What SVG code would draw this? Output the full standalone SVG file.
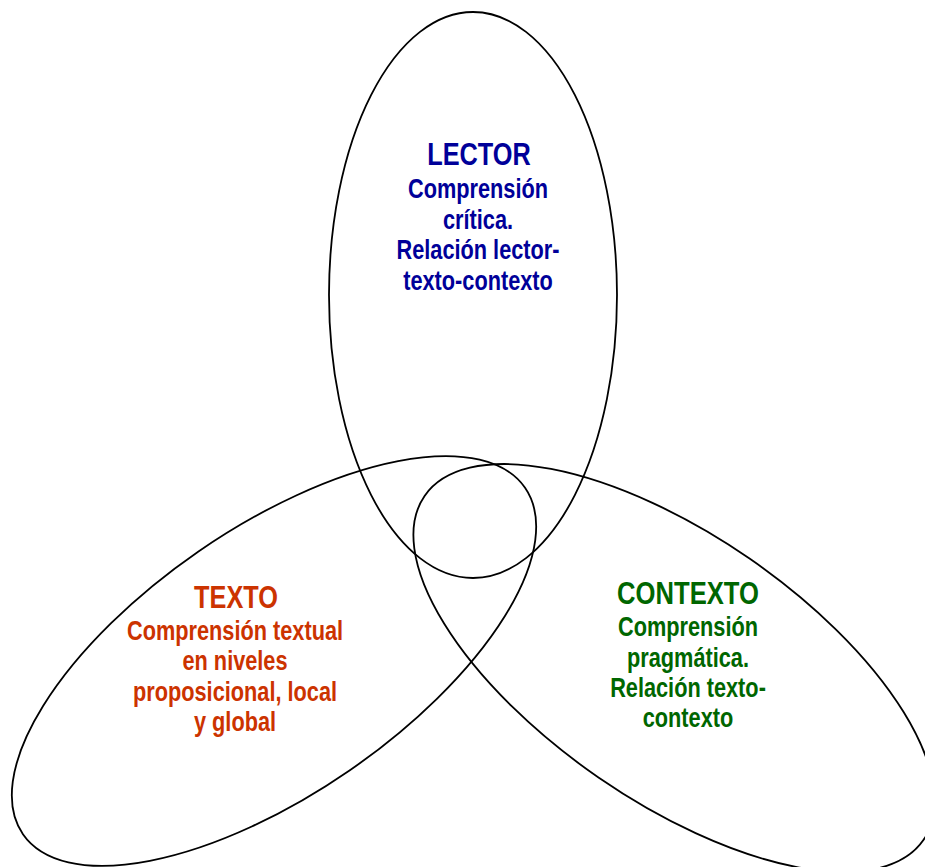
<svg xmlns="http://www.w3.org/2000/svg" width="925" height="867" viewBox="0 0 925 867">
<style>
.ring{fill:none;stroke:#000;stroke-width:1.8}
.t{font-family:"Liberation Sans",Arial,sans-serif;font-weight:bold;text-anchor:middle}
.h{font-size:30.5px}
.b{font-size:27px}
.lector{fill:#000099}
.texto{fill:#CC3300}
.contexto{fill:#006600}
</style>
<rect width="925" height="867" fill="#fff"/>
<g id="connectors"></g>
<g id="node-lector">
<ellipse class="ring" cx="473" cy="295" rx="144" ry="283"/>
<g class="t lector">
<text class="h" transform="translate(479,165) scale(0.83,1)">LECTOR</text>
<g transform="translate(478,0) scale(0.805,1)">
<text class="b" x="0" y="198">Comprensión</text>
<text class="b" x="0" y="229">crítica.</text>
<text class="b" x="0" y="259.5">Relación lector-</text>
<text class="b" x="0" y="290">texto-contexto</text>
</g>
</g>
</g>
<g id="node-texto">
<ellipse class="ring" cx="274" cy="661" rx="305" ry="133" transform="rotate(-34.6 274 661)"/>
<g class="t texto">
<text class="h" transform="translate(236,608) scale(0.83,1)">TEXTO</text>
<g transform="translate(235,0) scale(0.805,1)">
<text class="b" x="0" y="640">Comprensión textual</text>
<text class="b" x="0" y="670.5">en niveles</text>
<text class="b" x="0" y="701">proposicional, local</text>
<text class="b" x="0" y="731.5">y global</text>
</g>
</g>
</g>
<g id="node-contexto">
<ellipse class="ring" cx="674" cy="668" rx="303" ry="133" transform="rotate(34.6 674 668)"/>
<g class="t contexto">
<text class="h" transform="translate(688,603.5) scale(0.84,1)">CONTEXTO</text>
<g transform="translate(688,0) scale(0.805,1)">
<text class="b" x="0" y="636.5">Comprensión</text>
<text class="b" x="0" y="667">pragmática.</text>
<text class="b" x="0" y="697.5">Relación texto-</text>
<text class="b" x="0" y="727.5">contexto</text>
</g>
</g>
</g>
</svg>
